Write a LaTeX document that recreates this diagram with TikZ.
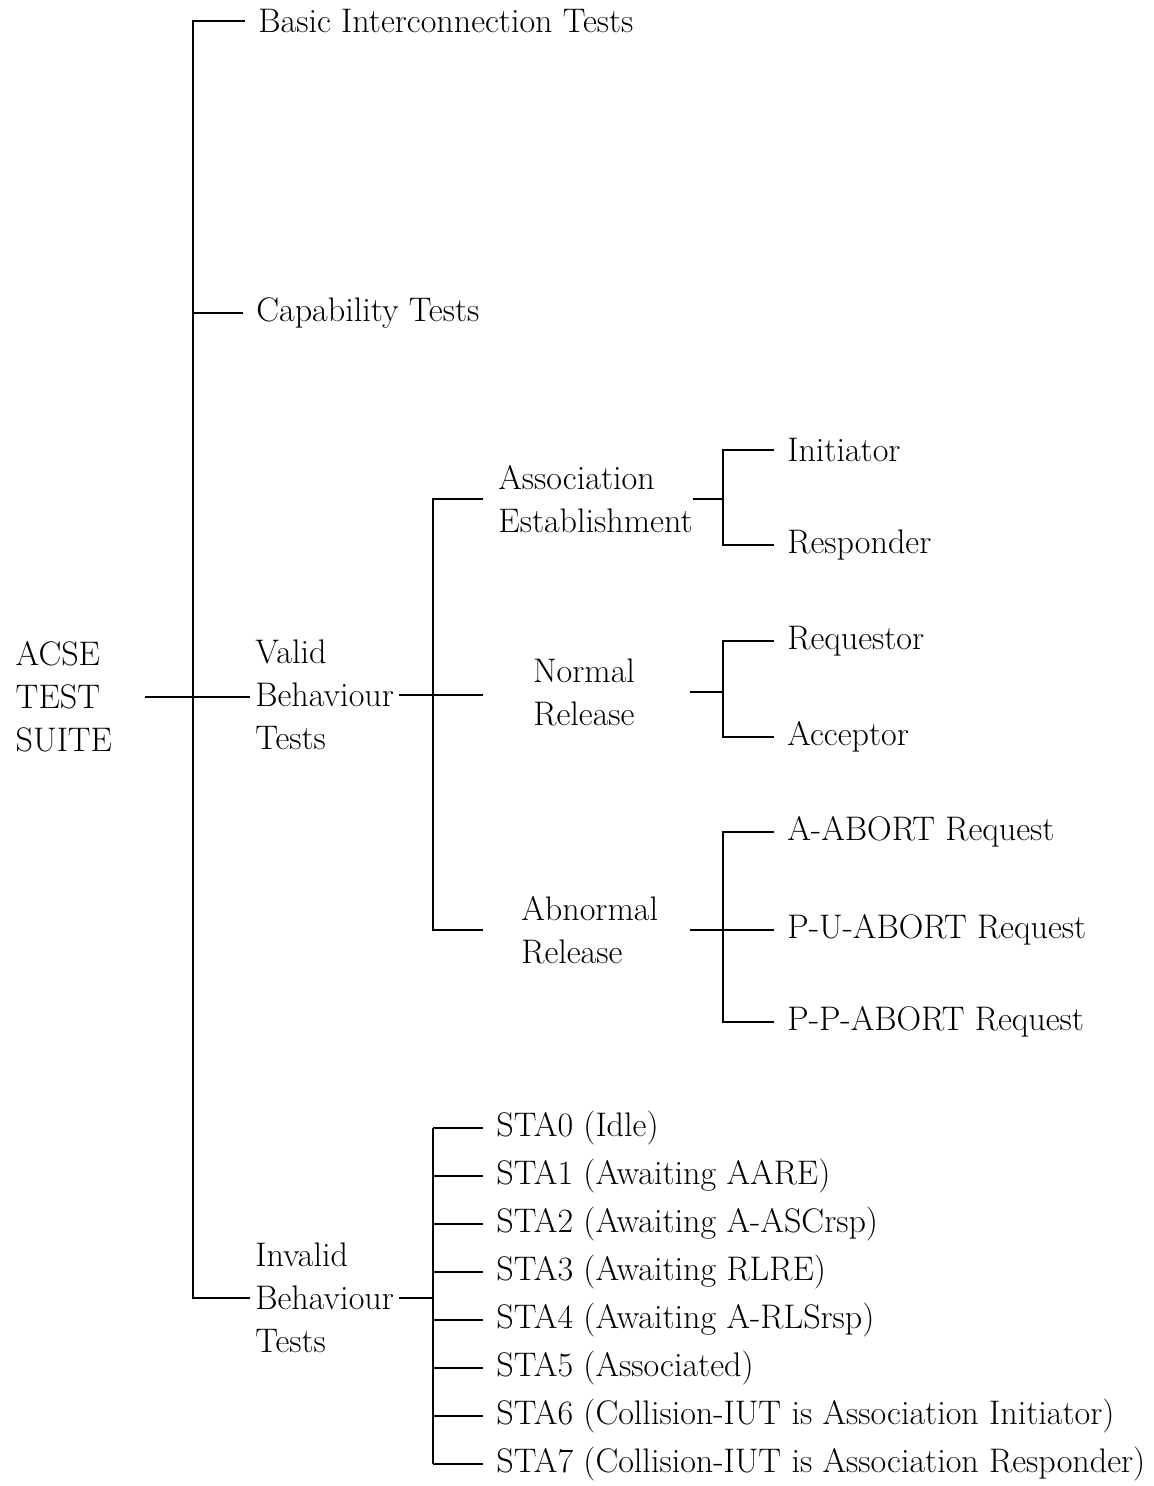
\documentclass[tikz,border=0pt]{standalone}
\usepackage{fontspec}
\usetikzlibrary{positioning}

\begin{document}
\begin{tikzpicture}[x=0.2mm,y=-0.2mm,
      every node/.style={font=\fontsize{19.4}{24.5}\selectfont},
      leaf/.style={anchor=west,inner xsep=2.6mm,inner ysep=0pt,align=left},
      branch/.style={leaf,inner xsep=1mm},
      group/.style={inner xsep=0pt,inner ysep=0pt},
      wire/.style={line width=1.4pt}
    ]
    \useasboundingbox (0,0) rectangle (1153,1486);

    % junction positions of the buses
    \coordinate (bus1) at (193,0);
    \coordinate (bus2) at (433,0);
    \coordinate (tip2) at (483,0);
    \coordinate (out3) at (690,0);
    \coordinate (bus3) at (723,0);

    \node[group,anchor=east,inner xsep=6.5mm,align=left] (root) at (145,697) {ACSE\\TEST\\SUITE};

    \node[leaf] (basic) at (245,21) {Basic Interconnection Tests};
    \node[leaf] (capab) at (243,313) {Capability Tests};
    \node[branch] (valid) at (250,695) {Valid\\Behaviour\\Tests};
    \node[branch] (invalid) at (250,1298) {Invalid\\Behaviour\\Tests};

    \node[group,anchor=west,align=left] (assoc) at (498,499) {Association\\Establishment};
    \node[group,align=center] (normal) at (584,692) {Normal\\Release};
    \node[group,anchor=west,align=left] (abnormal) at (521,930) {Abnormal\\Release};

    \node[leaf] (init) at (774,450) {Initiator};
    \node[leaf] (resp) at (774,545) {Responder};
    \node[leaf] (reqs) at (774,641) {Requestor};
    \node[leaf] (accp) at (774,737) {Acceptor};
    \node[leaf] (aab) at (774,832) {A-ABORT Request};
    \node[leaf] (pu) at (774,930) {P-U-ABORT Request};
    \node[leaf] (pp) at (774,1022) {P-P-ABORT Request};

    \foreach \i/\txt in {0/STA0 (Idle),1/STA1 (Awaiting AARE),2/STA2 (Awaiting A-ASCrsp),
        3/STA3 (Awaiting RLRE),4/STA4 (Awaiting A-RLSrsp),5/STA5 (Associated),
        6/STA6 (Collision-IUT is Association Initiator),
        7/STA7 (Collision-IUT is Association Responder)}
      \node[leaf] (sta\i) at (483,1128+48*\i) {\txt};

    % first level
    \draw[wire] (root.east) -- (root.east -| valid.west);
    \draw[wire] (basic.west) -- (basic.west -| bus1) -- (invalid.west -| bus1) -- (invalid.west);
    \draw[wire] (capab.west) -- (capab.west -| bus1);

    % valid behaviour
    \draw[wire] (valid.east) -- (valid.east -| tip2);
    \draw[wire] (assoc.west -| tip2) -- (assoc.west -| bus2) -- (abnormal.west -| bus2) -- (abnormal.west -| tip2);

    \draw[wire] (assoc.east) -- (assoc.east -| bus3);
    \draw[wire] (init.west) -- (init.west -| bus3) -- (resp.west -| bus3) -- (resp.west);
    \draw[wire] (normal.east -| out3) -- (normal.east -| bus3);
    \draw[wire] (reqs.west) -- (reqs.west -| bus3) -- (accp.west -| bus3) -- (accp.west);
    \draw[wire] (abnormal.east -| out3) -- (pu.west);
    \draw[wire] (aab.west) -- (aab.west -| bus3) -- (pp.west -| bus3) -- (pp.west);

    % invalid behaviour
    \draw[wire] (invalid.east) -- (invalid.east -| bus2);
    \draw[wire] (sta0.west -| bus2) -- (sta7.west -| bus2);
    \foreach \i in {0,...,7}
      \draw[wire] (sta\i.west -| bus2) -- (sta\i.west);
  \end{tikzpicture}
\end{document}
